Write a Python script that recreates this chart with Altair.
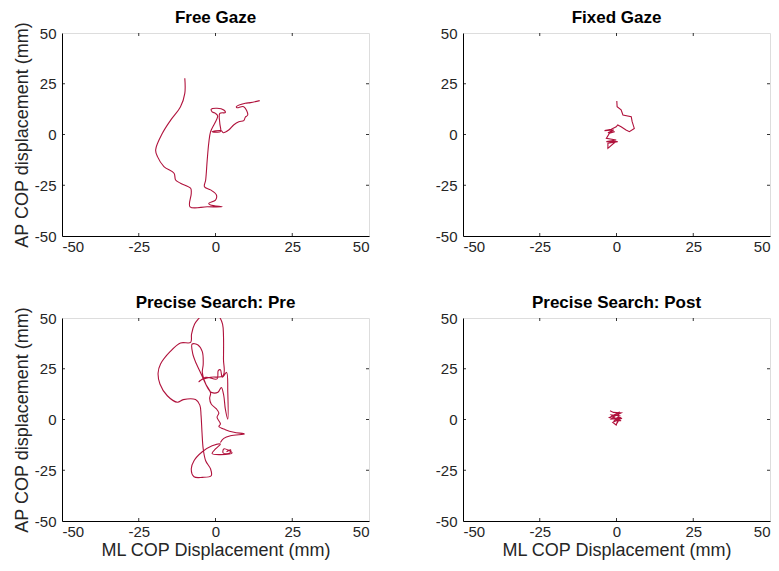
import altair as alt
import pandas as pd

FONT = "Liberation Sans"
LINE_COLOR = "#B0123C"

# ---- data (mm) ----
free_x = [-10.0, -10.0, -11.4, -14.6, -17.3, -19.5, -18.9, -16.8, -13.5, -13.0, -11.4, -8.1, -7.9, -8.3,
          -2.7, 2.2, -1.6, -2.2, 0.0, 0.3, -1.6, -3.6, -3.2, -2.7, -2.2, -1.6, 0.7, 0.0, -1.1, -1.4,
          0.5, 2.7, 3.2, 1.4, 1.4, 1.6, -1.1, 1.9, 2.5, 4.3, 5.9, 7.6, 9.2, 9.7, 10.5, 9.2, 7.0, 6.8,
          9.7, 11.4, 14.4]
free_y = [27.7, 20.3, 13.7, 7.1, 0.6, -7.6, -10.9, -15.8, -19.1, -22.4, -24.0, -26.5, -29.0, -35.6,
          -35.6, -35.6, -34.7, -33.9, -32.3, -29.8, -27.3, -25.7, -22.4, -12.6, -4.3, 1.4, 9.1, 10.4,
          11.2, 12.4, 12.9, 12.1, 10.8, 10.4, 5.5, 1.4, 1.4, 1.9, 0.9, 2.2, 4.7, 6.3, 6.8, 8.5, 9.6,
          13.7, 13.2, 13.7, 15.4, 15.7, 16.7]

fixed_x = [0.1, 0.2, 1.5, 2.1, 4.8, 5.1, 5.8, 4.2, 3.1, 1.5, 0.4, -0.1, -1.7, -3.9, -0.9, -2.8,
           -0.6, -2.3, -3.3, -0.1, -3.3, 0.4, -2.8, -2.8, -0.9, -0.1]
fixed_y = [16.5, 13.7, 12.1, 9.6, 8.8, 6.3, 3.0, 1.4, 2.2, 3.8, 4.7, 3.8, 2.6, 1.9, 2.2, 0.9,
           1.4, 0.6, -1.9, -2.7, -3.5, -3.5, -4.3, -6.8, -4.3, -3.5]

pre_x = [3.6, 4.9, 4.7, 2.5, 2.7, 5.4, 1.6, -1.1, 0.0, 1.6, -1.1, -4.3, -7.0, -7.9, -7.0, -4.3,
         -1.4, -1.6, -3.2, -4.0, -4.4, -4.7, -5.1, -6.5, -10.5, -12.4, -15.7, -18.1, -18.7, -17.9,
         -14.8, -11.4, -8.1, -7.8, -6.8, -4.9, -2.2, 1.2, 2.3, 2.6, 2.6, 2.5, -1.6, -4.7, -5.4,
         -3.2, 0.5, 0.9, 1.6, 2.2, 3.6, 4.0, 4.0, 3.2, 2.7, 1.9, 0.8, -1.4, -2.5, -3.6, -4.3,
         -4.0, -4.3, -5.7, -7.6, -7.4, -6.2, -4.9, -3.2, -1.6, -1.9, -1.4, 0.3, 1.1, 0.5, 1.6,
         1.1, 3.2, 6.0, 9.4, 4.9, 2.7, 1.6]
pre_y = [-15.9, -14.9, -16.5, -16.5, -14.5, -16.5, -17.3, -16.8, -14.5, -12.1, -12.9, -15.9,
         -20.3, -24.4, -28.2, -28.5, -27.7, -24.4, -20.3, -14.5, -6.3, 1.9, 7.1, 9.8, 9.8, 8.5,
         11.7, 17.5, 22.9, 27.3, 33.4, 37.7, 38.0, 42.1, 47.0, 50.8, 56.9, 50.8, 47.0, 41.3, 29.8,
         21.6, 20.8, 19.5, 18.6, 20.8, 20.0, 24.1, 24.5, 20.8, 23.2, 13.4, 0.2, 5.2, 11.7, 15.8,
         13.4, 13.4, 15.4, 19.1, 23.2, 27.3, 33.4, 36.7, 37.2, 32.3, 27.3, 23.2, 17.5, 13.1, 10.4,
         7.6, 5.2, 3.2, 1.1, -2.2, -3.4, -5.0, -6.3, -7.1, -8.0, -9.3, -11.3]

post_x = [-2.1, -1.0, 1.5, -0.7, -1.7, 1.8, -1.2, -0.1, 0.4, -1.7, 1.0, -0.7, 1.5, -2.3, 0.8,
          0.2, 1.2, -1.0]
post_y = [4.3, 3.5, 3.2, 1.6, 0.2, 0.6, -1.4, -2.7, -0.6, 2.2, 1.9, -0.6, -0.6, 0.9, 3.5,
          -1.8, 1.0, 0.5]

titles = ["Free Gaze", "Fixed Gaze", "Precise Search: Pre", "Precise Search: Post"]
x_title = "ML COP Displacement (mm)"
y_title = "AP COP displacement (mm)"
tick_values = [-50, -25, 0, 25, 50]
inner_ticks = [-25, 0, 25]

W, H = 307, 203
TXT = "#262626"


def panel(xs, ys, title, show_x_title, show_y_title, smooth):
    df = pd.DataFrame({"x": xs, "y": ys, "order": list(range(len(xs)))})
    xscale = alt.Scale(domain=[-50, 50], nice=False, zero=False)
    yscale = alt.Scale(domain=[-50, 50], nice=False, zero=False)
    common = dict(values=tick_values, grid=False, ticks=False, domainColor="black",
                  labelExpr="datum.value + ''",
                  labelFont=FONT, labelFontSize=15, labelColor=TXT,
                  titleFont=FONT, titleFontSize=18, titleFontWeight="normal", titleColor=TXT)
    xaxis = alt.Axis(title=x_title if show_x_title else None, labelPadding=3, titlePadding=2,
                     **common)
    yaxis = alt.Axis(title=y_title if show_y_title else None, labelPadding=6, titlePadding=3,
                     **common)
    line = alt.Chart(df).mark_line(
        color=LINE_COLOR, strokeWidth=1.1, clip=True,
        interpolate="catmull-rom" if smooth else "linear",
    ).encode(
        x=alt.X("x:Q", scale=xscale, axis=xaxis),
        y=alt.Y("y:Q", scale=yscale, axis=yaxis),
        order="order:Q",
    )
    tdf = pd.DataFrame({"t": inner_ticks})
    bot = alt.Chart(tdf).mark_rule(color="black", strokeWidth=0.8).encode(
        x=alt.X("t:Q", scale=xscale), y=alt.value(H), y2=alt.value(H - 3))
    top = alt.Chart(tdf).mark_rule(color="black", strokeWidth=0.8).encode(
        x=alt.X("t:Q", scale=xscale), y=alt.value(0), y2=alt.value(3))
    left = alt.Chart(tdf).mark_rule(color="black", strokeWidth=0.8).encode(
        y=alt.Y("t:Q", scale=yscale), x=alt.value(0), x2=alt.value(3))
    right = alt.Chart(tdf).mark_rule(color="black", strokeWidth=0.8).encode(
        y=alt.Y("t:Q", scale=yscale), x=alt.value(W), x2=alt.value(W - 3))
    # the long y-axis title lifts the title of left panels; compensate
    off = -6 if show_y_title else -1
    return alt.layer(line, bot, top, left, right).properties(
        width=W, height=H,
        title=alt.TitleParams(title, font=FONT, fontSize=17, fontWeight="bold", color="black",
                              offset=off, frame="group"),
    )


p1 = panel(free_x, free_y, titles[0], False, True, True)
p2 = panel(fixed_x, fixed_y, titles[1], False, False, False)
p3 = panel(pre_x, pre_y, titles[2], True, True, True)
p4 = panel(post_x, post_y, titles[3], True, False, False)

chart = alt.concat(p1, p2, p3, p4, columns=2,
                   spacing=alt.RowColnumber(row=82, column=94)).properties(
    bounds="flush"
).configure_view(
    stroke="black", strokeWidth=1
).configure(padding={"left": 4, "top": 0, "right": 0, "bottom": 0})

chart.save("out.html", embed_options={"renderer": "svg", "actions": False})
